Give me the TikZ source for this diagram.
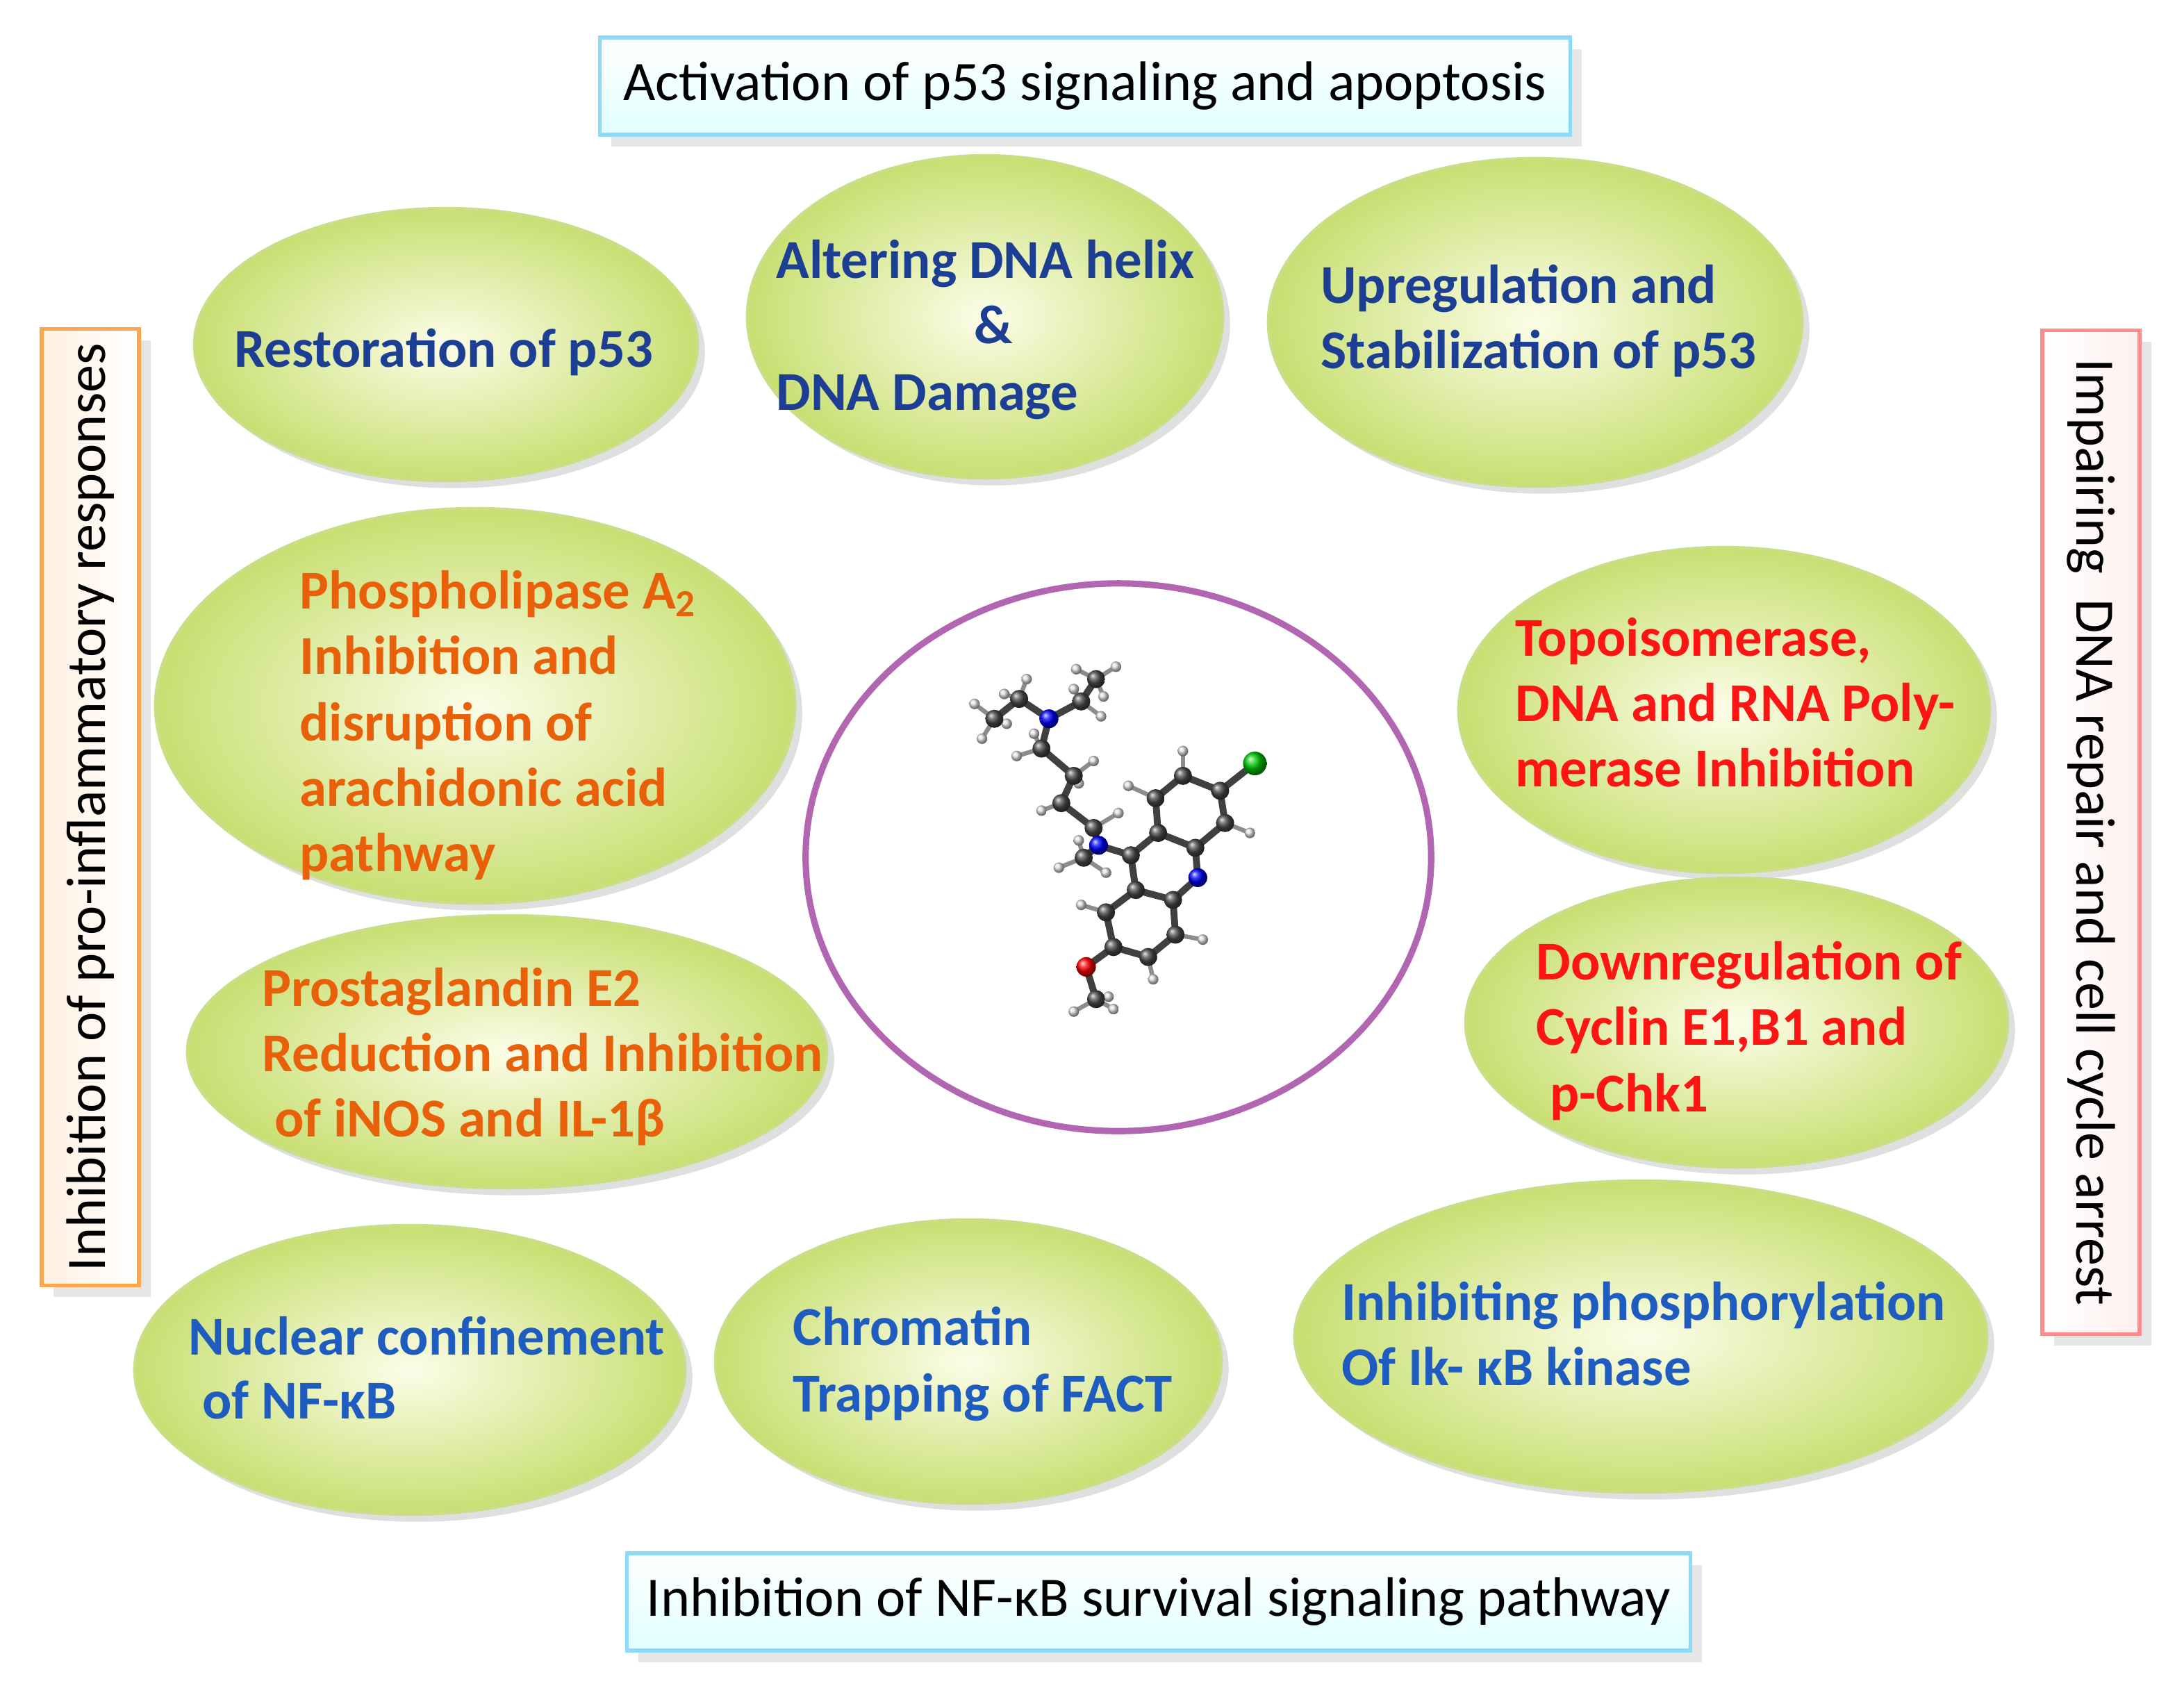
\documentclass[tikz,border=0pt]{standalone}
\usepackage{fontspec}
\setmainfont{Carlito}
\usetikzlibrary{shapes.geometric,shadows}
\definecolor{navy}{HTML}{1C3F94}
\definecolor{nfb}{HTML}{1E5CC0}
\definecolor{org}{HTML}{E8600A}
\definecolor{rd}{HTML}{FF1414}
\definecolor{elin}{HTML}{FCFDE8}
\definecolor{elout}{HTML}{C8DF72}
\definecolor{elbd}{HTML}{C9DE86}
\begin{document}
\begin{tikzpicture}[x=0.01cm,y=-0.01cm,
  ell/.style={ellipse,draw=elbd,line width=0.6pt,inner color=elin,outer color=elout,
    drop shadow={shadow xshift=1.5pt,shadow yshift=-1.5pt,opacity=0.25}},
  tx/.style={anchor=base west,font=\fontsize{11.2}{13}\selectfont\bfseries,inner sep=0pt},
  bx/.style={font=\fontsize{11.4}{13}\selectfont,inner sep=0pt},
  bond/.style={line width=1.4pt,draw=black!75},
]
\useasboundingbox (0,0) rectangle (1572,1226);
% boxes
\node[draw=cyan!45,line width=0.8pt,top color=white,bottom color=cyan!12,minimum width=6.98cm,minimum height=0.70cm,
  drop shadow={opacity=0.2}] (top) at (781,62) {};
\node[bx,anchor=center] (toptx) at (top) {Activation of p53 signaling and apoptosis};
\node[draw=cyan!45,line width=0.8pt,top color=white,bottom color=cyan!12,minimum width=7.65cm,minimum height=0.70cm,
  drop shadow={opacity=0.2}] (bot) at (834,1153) {};
\node[bx,anchor=center] (bottx) at (bot) {Inhibition of NF-κB survival signaling pathway};
\node[draw=orange!70,line width=0.8pt,left color=orange!12,right color=white,minimum width=0.70cm,minimum height=6.88cm,
  drop shadow={opacity=0.2}] (lft) at (65,581) {};
\node[bx,rotate=90,anchor=center] (lfttx) at (lft) {Inhibition of pro-inflammatory responses};
\node[draw=red!45,line width=0.8pt,left color=white,right color=red!6,minimum width=0.70cm,minimum height=7.22cm,
  drop shadow={opacity=0.2}] (rgt) at (1505,599) {};
\node[bx,rotate=-90,anchor=center] (rgttx) at (rgt) {Impairing\ \ DNA repair and cell cycle arrest};
% central circle
\node[ellipse,draw=violet!60,line width=1.3pt,fill=white,minimum width=4.5cm,minimum height=3.94cm] (ctr) at (805,617) {};
% ellipses
\node[ell,minimum width=3.62cm,minimum height=1.96cm] (e1) at (321,248) {};
\node[ell,minimum width=3.42cm,minimum height=2.32cm] (e2) at (709,228) {};
\node[ell,minimum width=3.84cm,minimum height=2.36cm] (e3) at (1105,232) {};
\node[ell,minimum width=4.60cm,minimum height=2.84cm] (e4) at (342,508) {};
\node[ell,minimum width=3.82cm,minimum height=2.34cm] (e5) at (1241,511) {};
\node[ell,minimum width=4.60cm,minimum height=1.96cm] (e6) at (365,757) {};
\node[ell,minimum width=3.90cm,minimum height=2.08cm] (e7) at (1250,736) {};
\node[ell,minimum width=3.96cm,minimum height=2.08cm] (e8) at (295,986) {};
\node[ell,minimum width=3.64cm,minimum height=2.04cm] (e9) at (697,980) {};
\node[ell,minimum width=4.98cm,minimum height=2.24cm] (e10) at (1181,962) {};
% texts
\node[tx,text=navy] (t1) at (168,264) {Restoration of p53};
\node[tx,text=navy] (t2a) at (558,200) {Altering DNA helix};
\node[tx,text=navy,anchor=base] (t2b) at (715,247) {\&};
\node[tx,text=navy] (t2c) at (558,295) {DNA Damage};
\node[tx,text=navy] (t3a) at (950,218) {Upregulation and};
\node[tx,text=navy] (t3b) at (950,265) {Stabilization of p53};
\node[tx,text=org] (t4a) at (215,438) {Phospholipase A\textsubscript{2}};
\node[tx,text=org] (t4b) at (215,485) {Inhibition and};
\node[tx,text=org] (t4c) at (215,533) {disruption of};
\node[tx,text=org] (t4d) at (215,580) {arachidonic acid};
\node[tx,text=org] (t4e) at (215,627) {pathway};
\node[tx,text=rd] (t5a) at (1090,472) {Topoisomerase,};
\node[tx,text=rd] (t5b) at (1090,519) {DNA and RNA Poly-};
\node[tx,text=rd] (t5c) at (1090,566) {merase Inhibition};
\node[tx,text=org] (t6a) at (188,724) {Prostaglandin E2};
\node[tx,text=org] (t6b) at (188,771) {Reduction and Inhibition};
\node[tx,text=org] (t6c) at (197,818) {of iNOS and IL-1β};
\node[tx,text=rd] (t7a) at (1105,705) {Downregulation of};
\node[tx,text=rd] (t7b) at (1105,752) {Cyclin E1,B1 and};
\node[tx,text=rd] (t7c) at (1115,800) {p-Chk1};
\node[tx,text=nfb] (t8a) at (135,975) {Nuclear confinement};
\node[tx,text=nfb] (t8b) at (145,1021) {of NF-κB};
\node[tx,text=nfb] (t9a) at (570,968) {Chromatin};
\node[tx,text=nfb] (t9b) at (570,1016) {Trapping of FACT};
\node[tx,text=nfb] (t10a) at (965,950) {Inhibiting phosphorylation};
\node[tx,text=nfb] (t10b) at (965,997) {Of Ik- κB kinase};
% molecule
\begin{scope}[shift={(680,462)},x=0.0017857cm,y=-0.0017857cm]
\foreach \n/\p in {N1/{420,310},C1/{300,230},C2/{200,310},C3/{550,240},C4/{610,150},C5/{390,430},C6/{520,540},
 C7/{470,650},C8/{600,750},N2/{620,820},C9/{560,870},C10/{750,860},C11/{860,770},C13/{850,630},C14/{960,540},
 C15/{1110,600},C16/{1130,730},C17/{1010,830},Cl/{1250,490},N3/{1020,950},C18/{770,1000},C19/{920,1040},
 C20/{930,1180},C21/{820,1270},C22/{680,1230},C23/{650,1090},O/{570,1310},C24/{610,1440}}
  \coordinate (\n) at (\p);
\foreach \h/\q in {{120,250}/C2,{150,390}/C2,{250,330}/C2,{240,210}/C1,{330,150}/C1,{530,110}/C4,{690,100}/C4,
 {640,220}/C4,{630,300}/C3,{520,190}/C3,{290,460}/C5,{360,370}/C5,{600,480}/C6,{540,570}/C6,{390,680}/C7,
 {700,690}/C8,{460,910}/C9,{650,930}/C9,{540,800}/C9,{740,580}/C13,{960,440}/C14,{1230,770}/C16,
 {1040,1200}/C20,{840,1360}/C21,{550,1060}/C23,{520,1490}/C24,{680,1480}/C24,{660,1430}/C24}
  {\draw[line width=0.9pt,black!45] (\q) -- (\h);
   \shade[ball color=white!88!black] (\h) circle (0.038cm);}
\foreach \a/\b in {N1/C1,C1/C2,N1/C3,C3/C4,N1/C5,C5/C6,C6/C7,C7/C8,C8/N2,N2/C9,N2/C10,C10/C11,C11/C13,C13/C14,
 C14/C15,C15/C16,C16/C17,C17/C11,C15/Cl,C17/N3,N3/C19,C19/C18,C18/C10,C19/C20,C20/C21,C21/C22,C22/C23,C23/C18,C22/O,O/C24}
  \draw[bond] (\a) -- (\b);
\foreach \c in {C1,C2,C3,C4,C5,C6,C7,C8,C9,C10,C11,C13,C14,C15,C16,C17,C18,C19,C20,C21,C22,C23,C24}
  \shade[ball color=black!70] (\c) circle (0.065cm);
\foreach \c in {N1,N2,N3} \shade[ball color=blue] (\c) circle (0.068cm);
\shade[ball color=red] (O) circle (0.07cm);
\shade[ball color=green!80!black] (Cl) circle (0.085cm);
\end{scope}
\end{tikzpicture}
\end{document}
